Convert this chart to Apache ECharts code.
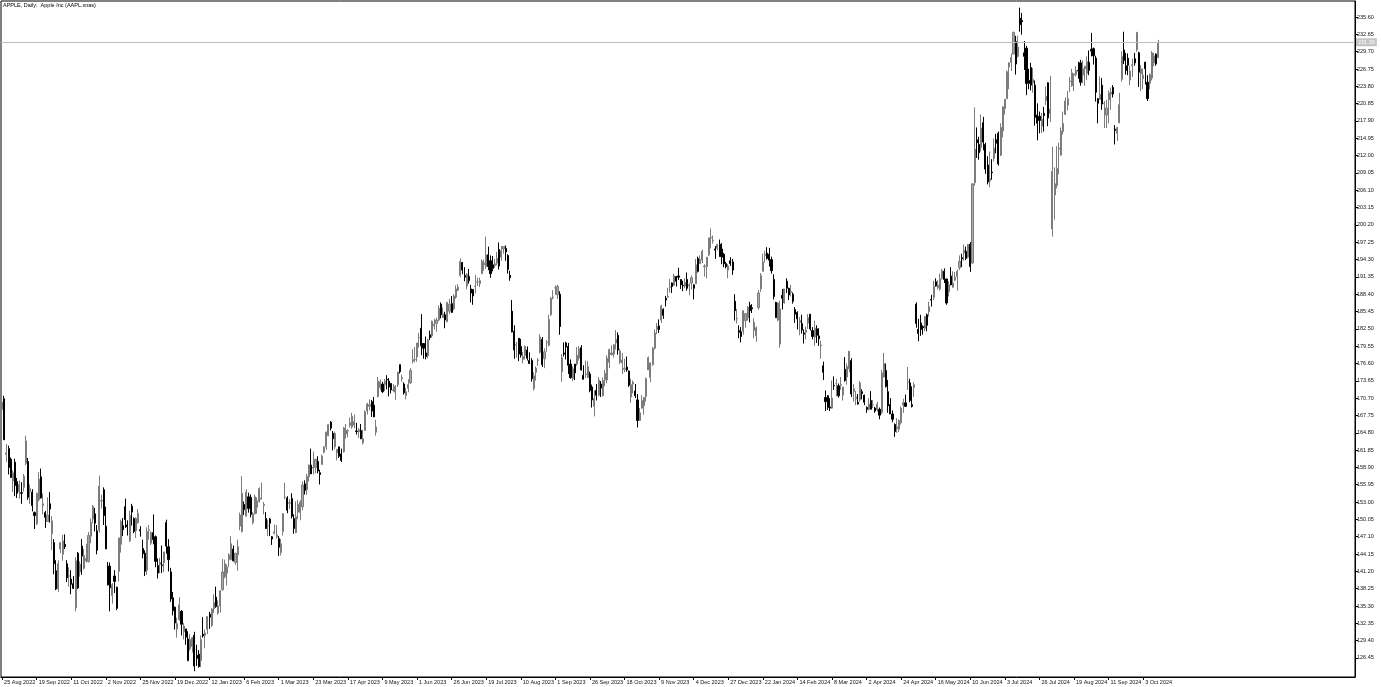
<!DOCTYPE html>
<html><head><meta charset="utf-8">
<script src="https://cdn.jsdelivr.net/npm/echarts@6/dist/echarts.min.js"></script>
<style>html,body{margin:0;padding:0;background:#fff}#c{width:1381px;height:687px}</style>
</head><body><div id="c"></div>
<script>
const chartTitle = 'APPLE, Daily:  Apple Inc (AAPL.xnas)';
// rows: [day, open, high, low, close]
const m2022_08 = [[25,168.8,170.1,168.4,170.0],[26,170.6,171.1,163.6,163.6],[29,161.1,162.9,159.8,161.4],[30,162.1,162.6,157.7,158.9],[31,160.3,160.6,157.1,157.2]];
const m2022_09 = [[1,156.6,158.4,154.7,158.0],[2,159.8,160.4,154.0,155.8],[6,156.5,157.1,153.7,154.5],[7,154.8,156.7,153.6,156.0],[8,154.6,156.4,152.7,154.5],[9,155.5,157.8,154.8,157.4],[12,159.6,164.3,159.3,163.4],[13,159.9,160.5,153.4,153.8],[14,154.8,156.0,152.7,155.3],[15,154.7,155.2,151.4,152.4],[16,151.2,151.4,148.4,150.7],[19,149.3,154.6,149.1,154.5],[20,153.4,158.1,153.1,156.9],[21,157.3,158.7,153.6,153.7],[22,152.4,154.5,150.9,152.7],[23,151.2,151.5,148.6,150.4],[26,149.7,153.8,149.6,150.8],[27,152.7,154.7,149.5,151.8],[28,147.6,150.6,144.8,149.8],[29,146.1,146.7,140.7,142.5],[30,141.3,143.1,138.0,138.2]];
const m2022_10 = [[3,138.2,143.1,137.7,142.5],[4,145.0,146.2,144.3,146.1],[5,144.1,147.4,143.0,146.4],[6,145.8,147.5,145.0,145.4],[7,142.5,143.1,139.4,140.1],[10,140.4,141.9,138.6,140.4],[11,139.9,141.4,137.3,139.0],[12,139.1,140.4,138.2,138.3],[13,135.0,143.6,134.4,143.0],[14,144.3,144.5,138.2,138.4],[17,141.1,142.9,140.3,142.4],[18,145.5,146.7,140.6,143.8],[19,141.7,145.0,141.5,143.9],[20,143.0,145.9,142.7,143.4],[21,142.9,147.9,142.7,147.3],[24,147.2,150.2,146.0,149.5],[25,150.1,152.5,149.4,152.3],[26,151.0,152.0,148.0,149.4],[27,148.1,149.1,144.1,144.8],[28,148.2,157.5,147.8,155.7],[31,153.2,154.2,151.9,153.3]];
const m2022_11 = [[1,155.1,155.5,149.1,150.7],[2,148.9,152.2,145.0,145.0],[3,142.1,142.8,138.8,138.9],[4,142.1,142.7,134.4,138.4],[7,137.1,139.2,135.7,138.9],[8,140.4,141.4,137.5,139.5],[9,138.5,138.6,134.6,134.9],[10,141.2,146.9,139.5,146.9],[11,145.8,150.0,144.4,149.7],[14,149.0,150.3,147.2,148.3],[15,152.2,153.6,148.6,150.0],[16,149.1,149.9,147.3,148.8],[17,146.4,151.5,146.2,150.7],[18,152.3,152.7,149.0,151.3],[21,150.2,150.4,147.7,148.0],[22,148.1,150.4,146.9,150.2],[23,149.5,151.8,149.3,151.1],[25,148.3,148.9,147.1,148.1],[28,145.1,146.6,143.4,144.2],[29,144.3,144.8,140.4,141.2],[30,141.4,148.7,140.6,148.0]];
const m2022_12 = [[1,148.2,149.1,146.6,148.3],[2,146.0,148.0,145.7,147.8],[5,147.8,150.9,145.8,146.6],[6,147.1,147.3,141.9,142.9],[7,142.2,143.4,140.0,140.9],[8,142.4,143.5,140.9,142.7],[9,142.3,145.6,140.9,142.2],[12,142.7,144.5,141.1,144.5],[13,149.5,150.0,144.2,145.5],[14,145.4,146.7,141.2,143.2],[15,141.1,141.8,136.0,136.5],[16,136.7,137.7,133.7,134.5],[19,135.1,135.2,131.3,132.4],[20,131.4,133.3,129.9,132.3],[21,133.0,136.8,132.8,135.5],[22,134.4,134.6,130.3,132.2],[23,130.9,132.4,129.6,131.9],[27,131.4,131.4,128.7,130.0],[28,129.7,131.0,125.9,126.0],[29,128.0,130.5,127.7,129.6],[30,128.4,130.0,127.4,129.9]];
const m2023_01 = [[3,130.3,130.9,124.2,125.1],[4,126.9,128.7,125.1,126.4],[5,127.1,127.8,124.8,125.0],[6,126.0,130.3,124.9,129.6],[9,130.5,133.4,129.9,130.2],[10,130.3,131.3,128.1,130.7],[11,131.3,133.5,130.5,133.5],[12,133.9,134.3,131.4,133.4],[13,132.0,134.9,131.7,134.8],[17,134.8,137.3,134.1,135.9],[18,136.8,138.6,135.0,135.2],[19,134.1,136.3,133.8,135.3],[20,135.3,138.0,134.2,137.9],[23,138.1,143.3,137.9,141.1],[24,140.3,143.2,140.0,142.5],[25,140.9,142.4,138.8,141.9],[26,143.2,144.3,141.9,144.0],[27,143.2,147.2,143.1,145.9],[30,145.0,145.6,142.9,143.0],[31,142.7,144.3,142.3,144.3]];
const m2023_02 = [[1,144.0,146.6,141.3,145.4],[2,148.9,151.2,148.2,150.8],[3,148.0,157.4,147.8,154.5],[6,152.6,153.1,150.8,151.7],[7,150.6,155.2,150.6,154.7],[8,153.9,154.6,151.2,151.9],[9,153.8,154.3,150.4,150.9],[10,149.5,151.3,149.2,151.0],[13,151.0,154.3,150.9,153.9],[14,152.1,153.8,151.0,153.2],[15,153.1,155.5,152.9,155.3],[16,153.5,156.3,153.4,153.7],[17,152.4,153.0,150.9,152.6],[21,150.2,151.3,148.4,148.5],[22,148.9,150.0,147.2,148.9],[23,150.1,150.3,147.2,149.4],[24,147.1,147.2,145.7,146.7],[27,147.7,149.2,147.5,147.9],[28,147.1,149.1,146.8,147.4]];
const m2023_03 = [[1,146.8,147.2,143.8,145.3],[2,144.4,146.7,143.9,145.9],[3,148.0,151.1,147.3,151.0],[6,153.8,156.3,153.5,153.8],[7,153.7,154.0,151.1,151.6],[8,152.8,153.5,151.8,152.9],[9,153.6,154.5,150.2,150.6],[10,150.2,150.9,147.6,148.5],[13,147.8,153.1,147.7,150.5],[14,151.3,153.4,150.1,152.6],[15,151.2,153.3,149.9,153.0],[16,152.2,156.5,151.6,155.9],[17,156.1,156.7,154.3,155.0],[20,155.1,157.8,154.2,157.4],[21,157.3,159.4,156.5,159.3],[22,159.3,162.1,157.8,157.8],[23,158.8,161.6,157.7,158.9],[24,158.9,160.3,157.9,160.3],[27,159.9,160.8,157.9,158.3],[28,158.0,158.5,156.0,157.7],[29,159.4,161.1,159.4,160.8],[30,161.5,162.5,161.3,162.4],[31,162.4,165.0,161.9,164.9]];
const m2023_04 = [[3,164.3,166.3,164.2,166.2],[4,166.6,166.8,165.2,165.6],[5,164.7,165.1,161.8,163.8],[6,162.4,165.0,162.0,164.7],[10,161.4,162.0,160.1,162.0],[11,162.4,162.4,160.5,160.8],[12,161.2,162.1,159.8,160.1],[13,161.6,165.8,161.4,165.6],[14,164.6,166.3,163.8,165.2],[17,165.1,165.4,164.0,165.2],[18,166.1,167.4,165.7,166.5],[19,165.8,168.2,165.5,167.6],[20,166.1,167.9,165.6,166.7],[21,165.1,166.5,164.5,165.0],[24,165.0,165.6,163.9,165.3],[25,165.2,166.3,163.7,163.8],[26,163.1,165.3,162.8,163.8],[27,165.2,168.6,165.2,168.4],[28,168.5,169.9,167.9,169.7]];
const m2023_05 = [[1,169.3,170.5,168.6,169.6],[2,170.1,170.4,167.5,168.5],[3,169.5,170.9,167.5,167.5],[4,164.9,167.0,164.3,165.8],[5,171.0,174.3,170.8,173.6],[8,172.5,173.9,172.1,173.5],[9,173.1,173.5,171.6,171.8],[10,173.0,174.0,171.9,173.6],[11,173.9,174.6,172.2,173.8],[12,173.6,174.1,171.0,172.6],[15,173.2,173.2,171.5,172.1],[16,172.0,173.1,171.8,172.1],[17,171.7,172.9,170.4,172.7],[18,173.0,175.2,172.6,175.1],[19,176.4,176.4,174.9,175.2],[22,174.0,174.7,173.5,174.2],[23,173.1,173.4,171.3,171.6],[24,171.1,172.4,170.5,171.8],[25,172.4,173.9,171.7,173.0],[26,173.3,175.8,173.1,175.4],[30,177.0,179.0,176.6,177.3],[31,177.3,179.4,176.8,177.3]];
const m2023_06 = [[1,177.7,180.1,176.9,180.1],[2,181.0,181.8,179.3,181.0],[5,182.6,185.0,178.0,179.6],[6,180.0,180.1,177.4,179.2],[7,178.4,181.2,177.3,177.8],[8,177.9,180.8,177.5,180.6],[9,181.5,182.2,180.6,181.0],[12,181.3,183.9,181.0,183.8],[13,183.0,184.2,182.4,183.3],[14,183.4,184.4,182.0,184.0],[15,184.0,186.5,183.8,186.0],[16,186.7,187.0,184.3,184.9],[20,184.4,186.1,184.4,185.0],[21,184.9,185.4,182.6,184.0],[22,183.7,187.1,183.7,187.0],[23,185.5,187.6,185.0,186.7],[26,186.8,188.1,185.2,185.3],[27,185.9,188.4,185.7,188.1],[28,187.9,189.9,187.6,189.3],[29,189.1,190.1,188.9,189.6],[30,191.6,194.5,191.3,194.0]];
const m2023_07 = [[3,193.8,193.9,191.8,192.5],[5,191.6,193.0,190.6,191.3],[6,189.8,192.0,189.2,191.8],[7,191.4,192.7,190.2,190.7],[10,189.3,190.0,187.0,188.6],[11,189.2,189.3,186.6,188.1],[12,189.7,191.7,188.5,189.8],[13,190.5,191.2,189.8,190.5],[14,190.2,191.2,189.6,190.7],[17,191.9,194.3,191.8,194.0],[18,193.4,194.3,192.4,193.7],[19,193.1,198.2,192.7,195.1],[20,195.1,196.5,192.5,193.1],[21,194.1,195.0,191.2,191.9],[24,193.4,194.9,192.3,192.8],[25,193.3,194.4,192.9,193.6],[26,193.7,195.6,193.3,194.5],[27,196.0,197.2,192.6,193.2],[28,194.7,196.6,194.1,195.8],[31,196.1,196.5,195.3,196.5]];
const m2023_08 = [[1,196.2,196.7,194.1,195.6],[2,195.0,195.2,191.9,192.6],[3,191.6,192.4,190.7,191.2],[4,185.5,187.4,181.9,182.0],[7,182.1,183.1,177.4,178.9],[8,179.7,180.3,177.6,179.8],[9,180.9,180.9,177.0,178.2],[10,179.5,180.8,177.6,178.0],[11,177.3,178.6,176.6,177.8],[14,178.0,179.7,177.3,179.5],[15,178.9,179.5,177.1,177.5],[16,177.1,178.5,176.5,176.6],[17,177.1,177.5,173.5,174.0],[18,172.3,175.1,172.0,174.5],[21,175.1,176.1,173.7,175.8],[22,177.1,177.5,176.2,177.2],[23,178.5,181.6,178.3,181.1],[24,180.7,181.1,176.0,176.4],[25,177.4,179.2,175.8,178.6],[28,180.1,180.6,178.6,180.2],[29,179.7,184.9,179.5,184.1],[30,184.9,187.9,184.7,187.7],[31,187.8,189.1,187.5,187.9]];
const m2023_09 = [[1,189.5,189.9,188.3,189.5],[5,188.3,190.0,187.6,189.7],[6,188.4,188.9,181.5,182.9],[7,175.2,178.2,173.5,177.6],[8,178.4,180.2,177.8,178.2],[11,180.1,180.3,177.3,179.4],[12,179.5,180.1,174.8,176.3],[13,176.5,177.3,174.0,174.2],[14,174.0,176.1,173.6,175.7],[15,176.5,176.5,173.8,175.0],[18,176.5,179.4,176.2,178.0],[19,177.5,179.6,177.1,179.1],[20,179.3,179.7,175.4,175.5],[21,174.6,176.3,173.9,173.9],[22,174.7,177.1,174.1,174.8],[25,174.2,177.0,174.2,176.1],[26,174.8,175.2,171.7,172.0],[27,172.6,173.0,169.1,170.4],[28,169.3,172.0,167.6,170.7],[29,172.0,173.1,170.3,171.2]];
const m2023_10 = [[2,171.2,174.3,171.0,173.8],[3,173.1,173.6,170.9,172.4],[4,171.1,174.2,171.0,173.7],[5,173.8,175.5,172.7,174.9],[6,173.8,178.0,173.2,177.5],[9,176.8,179.1,175.8,179.0],[10,178.1,179.7,178.0,178.4],[11,178.2,179.9,177.6,179.8],[12,180.1,182.3,179.0,180.7],[13,181.4,181.9,178.1,178.9],[16,176.8,179.1,176.5,178.7],[17,176.7,178.4,174.8,177.2],[18,175.6,177.4,175.1,175.8],[19,176.0,177.8,175.2,175.5],[20,175.3,175.4,172.6,172.9],[23,170.9,174.0,169.9,173.0],[24,173.1,173.7,171.5,173.4],[25,171.9,173.1,170.7,171.1],[26,170.4,171.4,165.7,166.9],[27,166.9,169.0,166.8,168.2],[30,169.0,171.2,168.9,170.3],[31,169.4,170.9,167.9,170.8]];
const m2023_11 = [[1,171.0,174.2,170.1,174.0],[2,175.5,177.8,175.5,177.6],[3,174.2,176.8,173.4,176.7],[6,176.4,179.4,176.2,179.2],[7,179.2,182.4,179.0,181.8],[8,182.4,183.5,181.6,182.9],[9,183.0,184.1,181.8,182.4],[10,184.0,186.6,183.5,186.4],[13,185.8,186.0,184.2,184.8],[14,187.7,188.1,186.3,187.4],[15,187.9,189.5,187.8,188.0],[16,189.6,191.0,188.7,189.7],[17,190.3,190.4,188.6,189.7],[20,189.9,191.9,189.9,191.5],[21,191.4,191.5,189.7,190.6],[22,191.5,192.9,190.8,191.3],[24,190.9,190.9,189.3,190.0],[27,189.9,190.7,188.9,189.8],[28,189.8,191.1,189.4,190.4],[29,190.9,192.1,189.0,189.4],[30,189.8,190.3,188.2,190.0]];
const m2023_12 = [[1,190.3,191.6,189.2,191.2],[4,190.0,190.1,187.5,189.4],[5,190.2,194.4,190.2,193.4],[6,194.5,194.8,192.1,192.3],[7,193.6,195.0,193.6,194.3],[8,194.2,196.0,193.7,195.7],[11,193.1,193.5,191.4,193.2],[12,193.1,194.7,191.1,194.7],[13,195.1,198.0,194.9,198.0],[14,198.0,199.6,196.2,198.1],[15,197.5,198.4,197.0,197.6],[18,196.1,196.6,194.4,195.9],[19,196.2,196.9,195.9,196.9],[20,196.9,197.7,194.8,194.8],[21,196.1,197.1,193.5,194.7],[22,195.2,195.4,193.0,193.6],[26,193.6,193.9,192.8,193.1],[27,192.5,193.5,191.1,193.2],[28,194.1,194.7,193.2,193.6],[29,193.9,194.4,191.7,192.5]];
const m2024_01 = [[2,187.2,188.4,183.9,185.6],[3,184.2,185.9,183.4,184.3],[4,182.2,183.1,180.9,181.9],[5,182.0,182.8,180.2,181.2],[8,182.1,185.6,181.5,185.6],[9,183.9,185.2,182.7,185.1],[10,184.4,186.4,183.9,186.2],[11,186.5,187.1,183.6,185.6],[12,186.1,186.7,185.2,185.9],[16,182.2,184.3,180.9,183.6],[17,181.3,182.9,180.3,182.7],[18,186.1,189.1,185.8,188.6],[19,189.3,192.0,188.8,191.6],[22,192.3,195.3,192.3,193.9],[23,195.0,195.8,193.8,195.2],[24,195.4,196.4,194.3,194.5],[25,195.2,196.3,193.1,194.2],[26,194.3,194.8,191.9,192.4],[30,190.9,191.8,187.5,188.0],[31,187.0,187.1,184.4,184.4]];
const m2024_02 = [[1,184.0,187.0,183.8,186.9],[2,179.9,187.3,179.3,185.9],[5,188.2,189.3,185.8,187.7],[6,186.9,189.3,186.8,189.3],[7,190.6,191.1,188.6,189.4],[8,189.4,189.5,187.4,188.3],[9,188.7,190.0,188.0,188.9],[12,188.4,188.7,186.8,187.2],[13,185.8,186.2,183.5,185.0],[14,185.3,185.5,182.4,184.2],[15,183.6,184.5,181.4,183.9],[16,183.4,184.9,181.7,182.3],[20,181.8,182.4,180.0,181.6],[21,181.9,182.9,180.7,182.3],[22,183.5,185.0,182.5,184.4],[23,185.0,185.0,182.2,182.5],[26,182.2,182.8,180.7,181.2],[27,181.1,183.9,179.6,182.6],[28,182.5,183.1,180.1,181.4],[29,181.3,182.6,179.6,180.8]];
const m2024_03 = [[1,179.6,180.5,177.4,179.7],[4,176.2,176.9,173.8,175.1],[5,170.8,172.0,168.5,170.1],[6,171.1,171.2,168.7,169.1],[7,169.2,170.7,168.5,169.0],[8,169.0,173.7,168.9,170.7],[11,172.9,174.4,172.1,172.8],[12,173.2,174.0,171.0,173.2],[13,172.8,173.2,170.8,171.1],[14,172.9,174.3,172.1,173.0],[15,171.2,172.6,170.3,172.6],[18,175.6,177.7,173.5,173.7],[19,174.3,176.6,173.0,176.1],[20,175.7,178.7,175.1,178.7],[21,177.1,177.5,170.9,171.4],[22,171.8,173.1,170.1,172.3],[25,170.6,171.9,169.5,170.9],[26,170.0,171.4,169.6,169.7],[27,170.4,173.6,170.1,173.3],[28,171.8,172.2,170.5,171.5]];
const m2024_04 = [[1,171.2,171.3,169.5,170.0],[2,169.1,169.3,168.2,168.8],[3,168.8,170.7,168.6,169.7],[4,170.3,171.9,168.8,168.8],[5,169.6,170.4,169.0,169.6],[8,169.0,169.2,168.2,168.5],[9,168.7,170.1,168.4,169.7],[10,168.8,169.1,167.1,167.8],[11,168.3,175.5,168.0,175.0],[12,174.3,178.4,174.2,176.6],[15,175.4,176.6,172.5,172.7],[16,171.8,173.8,168.2,169.4],[17,169.6,170.7,168.0,168.0],[18,168.0,168.6,166.6,167.1],[19,166.2,166.4,164.1,165.0],[22,165.5,167.3,164.8,165.8],[23,165.4,167.1,164.9,166.9],[24,166.5,169.3,166.2,169.0],[25,169.5,170.6,168.2,169.9],[26,169.9,171.3,169.2,169.3],[29,173.4,176.0,172.1,173.5],[30,173.3,174.0,170.0,170.3]];
const m2024_05 = [[1,169.6,172.7,169.1,169.3],[2,172.5,173.4,170.9,173.0],[3,186.7,187.0,182.7,183.4],[6,182.4,184.2,180.4,181.7],[7,183.5,184.9,181.3,182.4],[8,182.9,183.1,181.5,182.7],[9,182.6,184.7,182.1,184.6],[10,184.9,185.1,182.1,183.1],[13,185.4,187.1,184.6,186.3],[14,187.5,188.3,186.3,187.4],[15,187.9,190.7,187.4,189.7],[16,190.5,191.1,189.7,189.8],[17,189.5,190.8,189.2,189.9],[20,189.3,191.9,189.0,191.0],[21,191.1,192.7,190.9,192.4],[22,192.3,192.8,190.3,190.9],[23,191.0,191.0,186.6,186.9],[24,188.8,190.6,188.0,190.0],[28,191.5,193.0,189.9,190.0],[29,189.6,192.3,189.5,190.3],[30,190.8,192.2,190.6,191.3],[31,191.4,192.6,189.0,192.3]];
const m2024_06 = [[3,192.9,195.0,192.5,194.0],[4,194.6,195.3,193.0,194.4],[5,195.4,196.9,194.1,195.9],[6,195.7,196.5,194.2,194.5],[7,194.7,196.9,194.5,196.9],[10,196.9,197.3,192.2,193.1],[11,193.7,207.2,193.6,207.2],[12,207.4,220.2,206.9,213.1],[13,214.7,216.8,211.6,214.2],[14,213.9,215.2,211.3,212.5],[17,213.4,219.0,212.7,216.7],[18,217.6,218.6,212.9,214.3],[20,213.9,214.2,208.9,209.7],[21,210.4,211.9,207.1,207.5],[24,207.7,212.7,206.6,208.1],[25,209.2,211.4,207.9,209.1],[26,211.5,214.9,211.0,213.3],[27,214.7,215.7,212.4,214.1],[28,215.8,216.1,210.3,210.6]];
const m2024_07 = [[1,212.1,217.5,211.9,216.8],[2,216.2,220.4,215.1,220.3],[3,220.0,221.6,219.0,221.6],[5,221.7,226.5,221.7,226.3],[8,227.1,227.9,223.3,227.8],[9,227.9,229.4,226.4,228.7],[10,229.3,233.1,229.3,233.0],[11,231.4,232.4,225.8,227.6],[12,228.9,232.4,228.7,230.5],[15,235.4,237.2,233.1,234.3],[16,235.0,236.3,232.6,234.8],[17,229.5,231.5,226.6,228.9],[18,230.3,230.7,222.3,224.3],[19,224.8,226.8,223.3,224.3],[22,227.0,227.8,223.1,224.0],[23,224.4,226.9,222.7,225.0],[24,224.0,224.8,217.1,218.5],[25,218.9,220.9,214.6,217.5],[26,218.7,219.5,215.8,218.0],[29,217.0,219.3,215.8,218.2],[30,219.2,220.3,216.1,218.8],[31,221.4,223.8,220.6,222.1]];
const m2024_08 = [[1,224.4,224.5,217.0,218.4],[2,219.2,225.6,217.7,219.9],[5,199.5,213.5,198.2,209.3],[6,205.3,210.0,201.1,207.2],[7,206.9,213.6,206.4,209.8],[8,213.1,214.2,208.8,213.3],[9,212.1,216.8,212.0,216.2],[12,216.1,219.5,215.6,217.5],[13,219.0,221.9,219.0,221.3],[14,220.6,223.0,219.7,221.7],[15,224.6,225.4,222.8,224.7],[16,223.9,226.8,223.7,226.1],[19,225.7,226.0,223.0,225.9],[20,225.8,227.2,225.5,226.5],[21,226.5,228.0,225.1,226.4],[22,227.8,228.3,223.9,224.5],[23,225.7,228.2,224.3,226.8],[26,226.8,227.3,223.9,227.2],[27,226.0,228.9,224.9,228.0],[28,227.9,229.9,225.7,226.5],[29,230.1,232.9,228.9,229.8],[30,230.2,230.4,227.5,229.0]];
const m2024_09 = [[3,228.6,229.0,221.2,222.8],[4,221.7,221.8,217.5,220.9],[5,221.6,225.5,221.5,222.4],[6,224.0,225.2,219.8,220.8],[9,220.8,221.3,216.7,220.9],[10,218.9,221.5,216.7,220.1],[11,221.5,223.1,217.5,222.7],[12,222.5,223.6,219.8,222.8],[13,223.6,224.0,221.9,222.5],[16,216.5,217.2,213.9,216.3],[17,215.8,216.9,214.5,216.8],[18,217.6,222.7,217.5,220.7],[19,225.0,229.8,224.6,228.9],[20,230.0,233.1,227.6,228.2],[23,227.3,229.5,225.8,226.5],[24,228.6,229.4,225.7,227.4],[25,224.9,227.3,224.0,226.4],[26,227.3,228.5,225.4,227.5],[27,228.5,229.5,227.3,227.8],[30,230.0,233.0,229.7,233.0]];
const m2024_10 = [[1,229.5,229.7,223.7,226.2],[2,225.9,227.4,223.0,226.8],[3,225.1,226.8,223.3,225.7],[4,227.9,228.0,224.1,226.8],[7,224.5,225.7,221.3,221.7],[8,224.3,226.0,223.3,225.8],[9,225.2,229.8,224.8,229.5],[10,227.8,229.5,227.2,229.0],[11,229.3,229.4,227.3,227.6],[14,228.7,231.7,228.6,231.3]];

const months = [
  [2022,8,m2022_08],[2022,9,m2022_09],[2022,10,m2022_10],[2022,11,m2022_11],[2022,12,m2022_12],
  [2023,1,m2023_01],[2023,2,m2023_02],[2023,3,m2023_03],[2023,4,m2023_04],[2023,5,m2023_05],[2023,6,m2023_06],
  [2023,7,m2023_07],[2023,8,m2023_08],[2023,9,m2023_09],[2023,10,m2023_10],[2023,11,m2023_11],[2023,12,m2023_12],
  [2024,1,m2024_01],[2024,2,m2024_02],[2024,3,m2024_03],[2024,4,m2024_04],[2024,5,m2024_05],[2024,6,m2024_06],
  [2024,7,m2024_07],[2024,8,m2024_08],[2024,9,m2024_09],[2024,10,m2024_10]
];

const yTickLabels = ['126.45','129.40','132.35','135.30','138.25','141.20','144.15','147.10','150.05','153.00','155.95','158.90','161.85','164.80','167.75','170.70','173.65','176.60','179.55','182.50','185.45','188.40','191.35','194.30','197.25','200.20','203.15','206.10','209.05','212.00','214.95','217.90','220.85','223.80','226.75','229.70','232.65','235.60'];
const xTickLabels = ['25 Aug 2022','19 Sep 2022','11 Oct 2022','2 Nov 2022','25 Nov 2022','19 Dec 2022','12 Jan 2023','6 Feb 2023','1 Mar 2023','23 Mar 2023','17 Apr 2023','9 May 2023','1 Jun 2023','26 Jun 2023','19 Jul 2023','10 Aug 2023','1 Sep 2023','26 Sep 2023','18 Oct 2023','9 Nov 2023','4 Dec 2023','27 Dec 2023','22 Jan 2024','14 Feb 2024','8 Mar 2024','2 Apr 2024','24 Apr 2024','16 May 2024','10 Jun 2024','3 Jul 2024','26 Jul 2024','19 Aug 2024','11 Sep 2024','3 Oct 2024'];

const MON = ['Jan','Feb','Mar','Apr','May','Jun','Jul','Aug','Sep','Oct','Nov','Dec'];
const dates = [];
const candles = [];
months.forEach(([y, m, rows]) => {
  rows.forEach(r => {
    const i = dates.length;
    dates.push(r[0] + ' ' + MON[m - 1] + ' ' + y);
    candles.push([i, r[1], r[4], r[3], r[2]]); // [index, open, close, low, high]
  });
});
const xTickPos = xTickLabels.map(s => dates.indexOf(s)).filter(i => i >= 0);
const yTickVals = yTickLabels.map(Number);
const lastClose = candles[candles.length - 1][2];

const FONT = 'Liberation Sans';
const chart = echarts.init(document.getElementById('c'));
chart.setOption({
  animation: false,
  backgroundColor: '#ffffff',
  title: {
    text: chartTitle, left: 3, top: 2, padding: 0,
    textStyle: { fontSize: 5.5, fontWeight: 'normal', color: '#000', fontFamily: FONT }
  },
  grid: { left: 1, right: 26, top: 1, bottom: 10, show: true, borderColor: '#000', borderWidth: 1 },
  xAxis: {
    type: 'value', min: -0.5, max: 626,
    axisLine: { show: true, onZero: false, lineStyle: { color: '#000', width: 1 } },
    axisTick: { show: true, customValues: xTickPos, length: 3, lineStyle: { color: '#000' } },
    axisLabel: {
      customValues: xTickPos, formatter: v => dates[Math.round(v)] || '',
      fontSize: 5.5, color: '#111', align: 'left', margin: 2, padding: [0, 0, 0, 2], fontFamily: FONT
    },
    splitLine: { show: false }
  },
  yAxis: {
    type: 'value', position: 'right', min: 123.21, max: 238.33,
    axisLine: { show: true, onZero: false, lineStyle: { color: '#000', width: 1 } },
    axisTick: { show: true, customValues: yTickVals, length: 3, lineStyle: { color: '#000' } },
    axisLabel: {
      customValues: yTickVals, formatter: v => v.toFixed(2),
      fontSize: 5.5, color: '#111', margin: 2, fontFamily: FONT
    },
    splitLine: { show: false }
  },
  series: [{
    type: 'candlestick',
    data: candles,
    encode: { x: 0, y: [1, 2, 3, 4] },
    barWidth: 1.6,
    itemStyle: { color: '#a8a8a8', color0: '#000000', borderColor: '#7c7c7c', borderColor0: '#000000', borderWidth: 1 },
    markLine: {
      silent: true, symbol: 'none', animation: false,
      data: [{ yAxis: lastClose }],
      lineStyle: { color: '#bdbdbd', width: 1, type: 'solid' },
      label: {
        position: 'end', distance: 1, formatter: lastClose.toFixed(2),
        backgroundColor: '#c4c4c4', color: '#ffffff', fontSize: 5.5, padding: [1, 2], fontFamily: FONT
      }
    }
  }]
});
</script>
</body></html>
